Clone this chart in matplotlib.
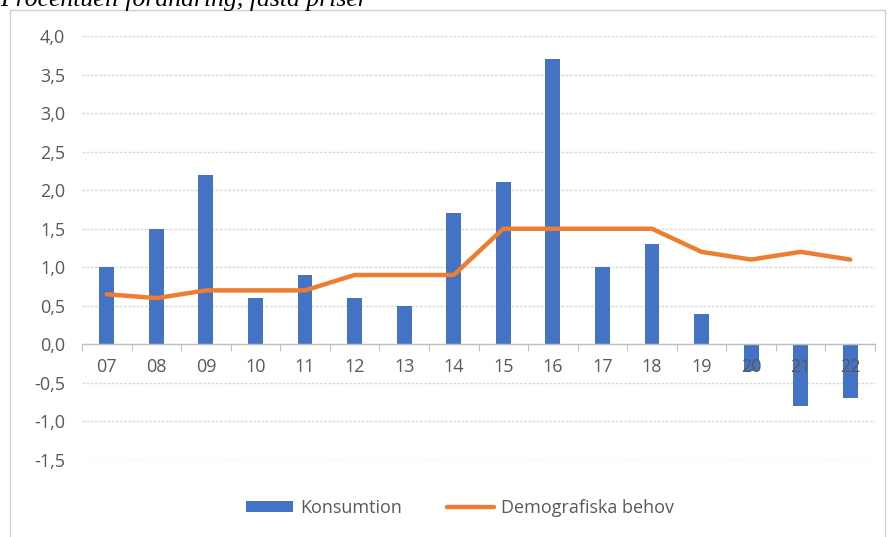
import matplotlib
matplotlib.use("Agg")
import matplotlib.pyplot as plt
import numpy as np
from matplotlib.patches import Rectangle
from matplotlib.ticker import FixedLocator, FuncFormatter

years = ["07", "08", "09", "10", "11", "12", "13", "14", "15", "16", "17", "18", "19", "20", "21", "22"]
konsumtion = [1.0, 1.5, 2.2, 0.6, 0.9, 0.6, 0.5, 1.7, 2.1, 3.7, 1.0, 1.3, 0.4, -0.34, -0.8, -0.7]
demografi = [0.65, 0.6, 0.7, 0.7, 0.7, 0.9, 0.9, 0.9, 1.5, 1.5, 1.5, 1.5, 1.2, 1.1, 1.2, 1.1]
y_ticks = [-1.5, -1.0, -0.5, 0.0, 0.5, 1.0, 1.5, 2.0, 2.5, 3.0, 3.5, 4.0]
title = "Procentuell förändring, fasta priser"

W, H = 888, 537
fig = plt.figure(figsize=(W / 100, H / 100), dpi=100)
plt.rcParams['font.family'] = ['Open Sans', 'DejaVu Sans']

# outer chart frame
fig.patches.append(Rectangle((10 / W, -0.1), (885 - 10) / W, 1 - 10 / H + 0.1,
                             transform=fig.transFigure, fill=False,
                             edgecolor="#d0d0d0", linewidth=1.0))

fig.text(0.0, 1 - 6 / H, title, family="Liberation Serif", style="italic",
         fontsize=18.5, va="baseline", ha="left", color="black")

ax = fig.add_axes([82 / W, 1 - 460 / H, (875 - 82) / W, (460 - 36) / H])
x = np.arange(len(years))
grey = "#595959"
bars = ax.bar(x, konsumtion, width=0.3, color="#4472C4", label="Konsumtion", zorder=1.5)
line, = ax.plot(x, demografi, color="#ED7D31", linewidth=3.2, solid_capstyle="round",
                label="Demografiska behov", zorder=4)

ax.set_xlim(-0.5, len(years) - 0.5)
ax.set_ylim(-1.5, 4.0)
ax.set_yticks(y_ticks)
ax.yaxis.set_major_formatter(FuncFormatter(lambda v, p: f"{v:.1f}".replace(".", ",")))
for yt in y_ticks:
    if yt != 0:
        ax.axhline(yt, color="#d9d9d9", linewidth=1.0, linestyle=(0, (2, 1)), zorder=1)
ax.axhline(0, color="#bfbfbf", linewidth=1.0, zorder=1.6)

for s in ["top", "right", "left"]:
    ax.spines[s].set_visible(False)
ax.spines["bottom"].set_position(("data", 0))
ax.spines["bottom"].set_color("#bfbfbf")
ax.xaxis.set_major_locator(FixedLocator(np.arange(-0.5, len(years), 1.0)))
ax.xaxis.set_major_formatter(FuncFormatter(lambda v, p: ""))
ax.xaxis.set_minor_locator(FixedLocator(x))
ax.xaxis.set_minor_formatter(FuncFormatter(lambda v, p: years[int(round(v))] if 0 <= round(v) < len(years) else ""))
ax.tick_params(axis="x", which="major", length=5, color="#bfbfbf", direction="out")
ax.tick_params(axis="x", which="minor", length=0, pad=10, labelsize=13, labelcolor=grey)
ax.tick_params(axis="y", length=0, pad=12, labelsize=13, labelcolor=grey)

leg = fig.legend(handles=[bars, line], labels=["Konsumtion", "Demografiska behov"],
                 loc="center", bbox_to_anchor=(460 / W, 1 - 508 / H), ncol=2,
                 frameon=False, fontsize=13, handlelength=2.6, handleheight=0.5,
                 columnspacing=2.5, handletextpad=0.4)
for t in leg.get_texts():
    t.set_color(grey)

fig.savefig("out.png", dpi=100)
